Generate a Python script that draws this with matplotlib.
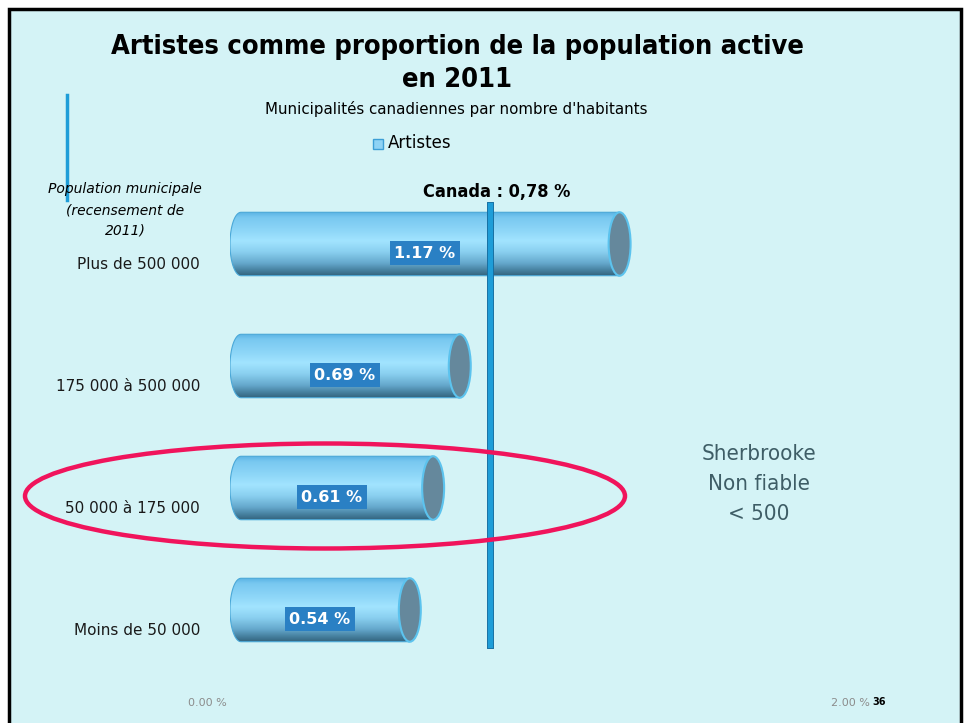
import numpy as np
import matplotlib
matplotlib.use("Agg")
import matplotlib.pyplot as plt
from matplotlib.patches import Ellipse, PathPatch, Rectangle
from matplotlib.path import Path
from matplotlib.colors import LinearSegmentedColormap
import matplotlib.transforms as mtransforms
import matplotlib.patheffects as pe

categories = ["Plus de 500 000", "175 000 à 500 000", "50 000 à 175 000", "Moins de 50 000"]
values = [1.17, 0.69, 0.61, 0.54]
value_labels = ["1.17 %", "0.69 %", "0.61 %", "0.54 %"]
canada_value = 0.78
canada_label = "Canada : 0,78 %"
xticks = [0.0, 2.0]
xtick_labels = ["0.00 %", "2.00 %"]

W, H = 967, 723
DPI = 100
BG = "#d4f3f6"

fig = plt.figure(figsize=(W / DPI, H / DPI), dpi=DPI)
fig.patch.set_facecolor("white")

def fx(px):
    return px / W

def fy(py):
    return 1 - py / H

# slide frame
frame = Rectangle((fx(9), fy(740)), fx(961) - fx(9), fy(9) - fy(740),
                  transform=fig.transFigure, facecolor=BG, edgecolor="black",
                  linewidth=2.5, zorder=-5)
fig.patches.append(frame)

# axes
ax_left, ax_right, ax_top, ax_bottom = 230, 896, 183, 671
ax = fig.add_axes([fx(ax_left), fy(ax_bottom), fx(ax_right) - fx(ax_left),
                   (ax_bottom - ax_top) / H])
ax.set_facecolor("none")
for s in ax.spines.values():
    s.set_visible(False)

y = np.arange(len(categories))
bar_h = 0.52
bars = ax.barh(y, values, height=bar_h, color="none", edgecolor="none")

cmap = LinearSegmentedColormap.from_list("cyl", [
    (0.0, "#5ab3e3"), (0.08, "#78c8f0"), (0.3, "#8fd7f8"), (0.45, "#a2e4ff"),
    (0.62, "#8ad0f0"), (0.8, "#65a8cc"), (0.92, "#447e9c"), (1.0, "#33627c")])
grad = np.linspace(0, 1, 256).reshape(-1, 1)

a = 0.033  # half width of cylinder end ellipse (data units)
for rect in bars.patches:
    x0 = rect.get_x()
    v = rect.get_width()
    yc = rect.get_y() + rect.get_height() / 2
    h = rect.get_height()
    t = np.linspace(np.pi / 2, 3 * np.pi / 2, 40)
    lx = x0 + a + a * np.cos(t)
    ly = yc - (h / 2) * np.sin(t)
    verts = [(x0 + v, yc - h / 2)] + list(zip(lx, ly)) + [(x0 + v, yc + h / 2), (x0 + v, yc - h / 2)]
    codes = [Path.MOVETO] + [Path.LINETO] * (len(verts) - 2) + [Path.CLOSEPOLY]
    body = PathPatch(Path(verts, codes), facecolor="none", edgecolor="#4aa8d8", lw=0.8, zorder=2)
    ax.add_patch(body)
    im = ax.imshow(grad, cmap=cmap, aspect="auto", origin="upper",
                   extent=(x0, x0 + v, yc + h / 2, yc - h / 2), zorder=1,
                   interpolation="bicubic")
    im.set_clip_path(body)
    cap = Ellipse((x0 + v, yc), 2 * a, h, facecolor="#65889c", edgecolor="#5cc3ee",
                  lw=1.5, zorder=3)
    ax.add_patch(cap)

ax.set_xlim(0, 2.0)
ax.set_ylim(len(categories) - 0.5, -0.5)

# value labels
for yi, v, lab in zip(y, values, value_labels):
    ax.text(v / 2, yi + 0.075, lab, ha="center", va="center", color="white",
            fontsize=11.5, fontweight="bold", family="DejaVu Sans", zorder=5,
            bbox=dict(boxstyle="square,pad=0.28", facecolor="#2a80c4", edgecolor="none"))

# Canada line
ax.axvline(canada_value, ymin=(ax_bottom - 645) / (ax_bottom - ax_top),
           ymax=(ax_bottom - 205) / (ax_bottom - ax_top), color="#1e9dd8", lw=3.6,
           zorder=4, path_effects=[pe.Stroke(linewidth=5, foreground="#1670a3"), pe.Normal()])
ax.text(canada_value, -0.43, canada_label, ha="center", va="center", fontsize=13,
        fontweight="bold", family="DejaVu Sans", fontstretch="condensed", color="black",
        transform=mtransforms.offset_copy(ax.transData, fig=fig, x=7, y=0, units="dots"))

# ticks
ax.set_yticks(y)
ax.set_yticklabels(categories, fontsize=11, color="#1a1a1a", family="DejaVu Sans")
ax.tick_params(axis="y", length=0, pad=21.5)
for lab in ax.get_yticklabels():
    lab.set_transform(lab.get_transform() + mtransforms.ScaledTranslation(0, -19 / DPI, fig.dpi_scale_trans))
ax.set_xticks(xticks)
ax.set_xticklabels(xtick_labels, fontsize=8, color="#8c8c8c")
ax.tick_params(axis="x", length=0, pad=19.5)
for lab, off in zip(ax.get_xticklabels(), [-23, -46]):
    lab.set_transform(lab.get_transform() + mtransforms.ScaledTranslation(off / DPI, 0, fig.dpi_scale_trans))

# title
fig.text(fx(457), fy(47), "Artistes comme proportion de la population active", ha="center",
         va="center", fontsize=19.5, fontweight="bold", family="DejaVu Sans",
         fontstretch="condensed")
fig.text(fx(457), fy(80), "en 2011", ha="center", va="center", fontsize=19.5,
         fontweight="bold", family="DejaVu Sans", fontstretch="condensed")
fig.text(fx(456), fy(109), "Municipalités canadiennes par nombre d'habitants", ha="center",
         va="center", fontsize=10.8, family="DejaVu Sans")

# legend
fig.patches.append(Rectangle((fx(373), fy(149)), fx(10) - fx(0), 10 / H, transform=fig.transFigure,
                             facecolor="#8fd3f5", edgecolor="#3d9fd6", lw=1))
fig.text(fx(388), fy(143), "Artistes", ha="left", va="center", fontsize=12, family="DejaVu Sans")

# axis title
fig.text(fx(125), fy(210), "Population municipale\n(recensement de\n2011)", ha="center",
         va="center", fontsize=10, style="italic", family="DejaVu Sans", linespacing=1.6)

# stray blue line
fig.add_artist(plt.Line2D([fx(67), fx(67)], [fy(95), fy(200)], color="#1e9dd8", lw=2.5,
                          transform=fig.transFigure))

# Sherbrooke note
fig.text(fx(759), fy(484), "Sherbrooke\nNon fiable\n< 500", ha="center", va="center",
         fontsize=16, color="#3e5d66", family="DejaVu Sans", fontstretch="condensed",
         linespacing=1.65)

# highlight ellipse
fig.patches.append(Ellipse((fx(325), fy(496)), fx(600), 105 / H, transform=fig.transFigure,
                           facecolor="none", edgecolor="#f0145c", lw=3.2, zorder=10))

# slide number
fig.text(fx(879), fy(702), "36", ha="center", va="center", fontsize=7, fontweight="bold")

fig.savefig("out.png", dpi=DPI, facecolor=fig.get_facecolor())
